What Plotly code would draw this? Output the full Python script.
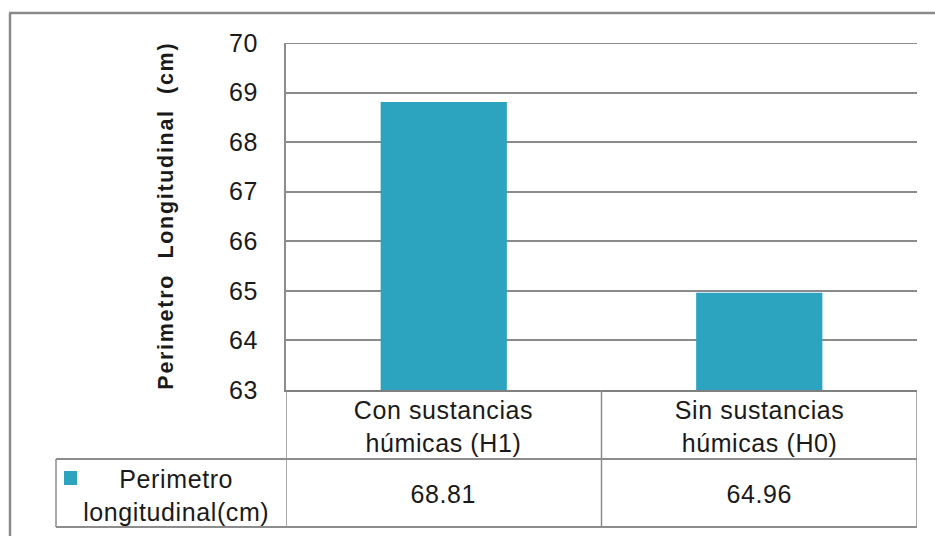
import plotly.graph_objects as go

# Data
categories = ["Con sustancias<br>húmicas (H1)", "Sin sustancias<br>húmicas (H0)"]
values = [68.81, 64.96]
series_name = "Perimetro<br>longitudinal(cm)"
y_title = "Perimetro  Longitudinal  (cm)"
y_ticks = [63, 64, 65, 66, 67, 68, 69, 70]

W, H = 935, 536
BAR = "#2ca3bf"
LINE = "#8c8c8c"
GRID = "#8a8a8a"
FONT = "Liberation Sans Narrow, Arial Narrow, Liberation Sans, sans-serif"
TXT = "#1a1a1a"
FS = 25


def fx(px):
    return px / W


def fy(py):
    return 1 - py / H


# plot area in pixels
PX0, PX1, PY0, PY1 = 286, 917, 43, 390
TABLE_ROW, TABLE_BOTTOM, TABLE_LEFT = 459, 527, 56

fig = go.Figure(
    go.Bar(
        x=list(range(len(categories))),
        y=values,
        width=0.4,
        marker=dict(color=BAR, line=dict(width=0)),
        name=series_name,
        showlegend=False,
        hoverinfo="skip",
    )
)

fig.update_layout(
    template="none",
    width=W,
    height=H,
    margin=dict(l=0, r=0, t=0, b=0, pad=0, autoexpand=False),
    paper_bgcolor="white",
    plot_bgcolor="white",
    font=dict(family=FONT, color=TXT, size=FS),
    xaxis=dict(
        domain=[fx(PX0), fx(PX1)],
        range=[-0.5, len(categories) - 0.5],
        showticklabels=False,
        showgrid=False,
        zeroline=False,
        showline=True,
        linecolor="#7f7f7f",
        linewidth=2,
        ticks="",
        automargin=False,
        fixedrange=True,
    ),
    yaxis=dict(
        domain=[fy(PY1), fy(PY0)],
        range=[y_ticks[0], y_ticks[-1]],
        tickvals=y_ticks,
        ticktext=[str(t) for t in y_ticks],
        tickfont=dict(size=FS, family=FONT, color=TXT),
        ticklabelstandoff=21,
        showgrid=True,
        gridcolor=GRID,
        gridwidth=2,
        zeroline=False,
        showline=True,
        linecolor=LINE,
        linewidth=2,
        ticks="",
        automargin=False,
        fixedrange=True,
    ),
)

shapes = []
# gridline at the top of the value range
shapes.append(dict(type="line", xref="paper", yref="y",
                   x0=fx(PX0), x1=fx(PX1), y0=y_ticks[-1], y1=y_ticks[-1],
                   line=dict(color=GRID, width=2), layer="below"))
# data table grid: category separators
for xv in [i - 0.5 for i in range(len(categories) + 1)]:
    shapes.append(dict(type="line", xref="x", yref="paper", x0=xv, x1=xv,
                       y0=fy(PY1), y1=fy(TABLE_BOTTOM),
                       line=dict(color=LINE, width=1.5)))
# data table row lines
for yy in (TABLE_ROW, TABLE_BOTTOM):
    shapes.append(dict(type="line", xref="paper", yref="paper",
                       x0=fx(TABLE_LEFT), x1=fx(PX1), y0=fy(yy), y1=fy(yy),
                       line=dict(color=LINE, width=2)))
shapes.append(dict(type="line", xref="paper", yref="paper",
                   x0=fx(TABLE_LEFT), x1=fx(TABLE_LEFT),
                   y0=fy(TABLE_ROW), y1=fy(TABLE_BOTTOM),
                   line=dict(color=LINE, width=1.5)))
# legend key
shapes.append(dict(type="rect", xref="paper", yref="paper",
                   x0=fx(64), x1=fx(77), y0=fy(485), y1=fy(471),
                   fillcolor=BAR, line=dict(width=0)))
# chart frame
shapes.append(dict(type="line", xref="paper", yref="paper",
                   x0=fx(9), x1=1, y0=fy(13), y1=fy(13),
                   line=dict(color=GRID, width=2.5)))
shapes.append(dict(type="line", xref="paper", yref="paper",
                   x0=fx(10), x1=fx(10), y0=fy(13), y1=0,
                   line=dict(color=GRID, width=2.5)))
fig.update_layout(shapes=shapes)

annotations = []
for i, (cat, v) in enumerate(zip(categories, values)):
    annotations.append(dict(x=i, xref="x", y=fy(426), yref="paper",
                            text=cat, showarrow=False,
                            font=dict(size=FS, family=FONT, color=TXT),
                            xanchor="center", yanchor="middle"))
    annotations.append(dict(x=i, xref="x", y=fy(494), yref="paper",
                            text=f"{v:.2f}", showarrow=False,
                            font=dict(size=FS, family=FONT, color=TXT),
                            xanchor="center", yanchor="middle"))
annotations.append(dict(x=fx(176), xref="paper", y=fy(495), yref="paper",
                        text=series_name, showarrow=False,
                        font=dict(size=FS, family=FONT, color=TXT),
                        xanchor="center", yanchor="middle"))
title_index = len(annotations)
annotations.append(dict(x=fx(166), xref="paper", y=fy(216), yref="paper",
                        text=f"<b>{y_title}</b>", showarrow=False, textangle=-90,
                        font=dict(size=21.5, family=FONT, color=TXT),
                        xanchor="center", yanchor="middle"))
fig.update_layout(annotations=annotations)

letter_spacing = """
var s = document.createElement('style');
s.textContent = '.main-svg text { letter-spacing: 0.6px; } '
  + 'g.annotation[data-index="%d"] text { letter-spacing: 1.7px; }';
document.head.appendChild(s);
""" % title_index

fig.write_html("out.html", post_script=letter_spacing)
